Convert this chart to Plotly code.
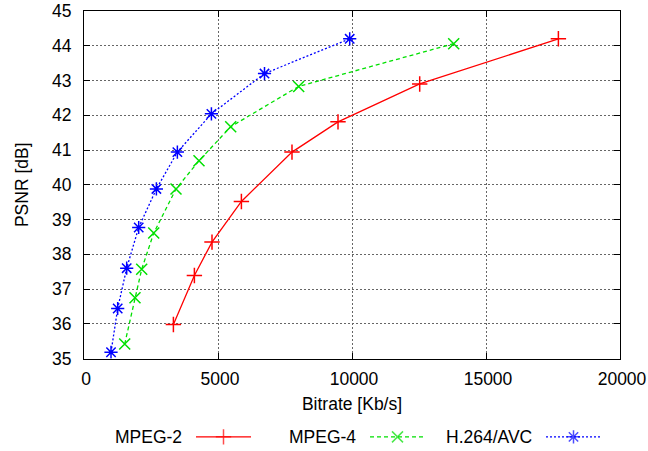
import plotly.graph_objects as go

# Rate-distortion measurements: bitrate in Kb/s, PSNR in dB
mpeg2_rate = [3336, 4119, 4776, 5873, 7761, 9478, 12526, 17701]
mpeg2_psnr = [35.98, 37.39, 38.35, 39.52, 40.94, 41.81, 42.90, 44.20]

mpeg4_rate = [1519, 1903, 2153, 2601, 3433, 4291, 5474, 8011, 13795]
mpeg4_psnr = [35.42, 36.75, 37.57, 38.61, 39.88, 40.69, 41.67, 42.83, 44.06]

h264_rate = [1008, 1257, 1593, 2041, 2701, 3484, 4754, 6735, 9914]
h264_psnr = [35.18, 36.44, 37.60, 38.77, 39.88, 40.94, 42.04, 43.20, 44.20]

series_names = ["MPEG-2", "MPEG-4", "H.264/AVC"]
x_ticks = [0, 5000, 10000, 15000, 20000]
x_tick_text = ["0", "5000", "10000", "15000", "20000"]
y_ticks = [35, 36, 37, 38, 39, 40, 41, 42, 43, 44, 45]

FONT = "Liberation Sans, Arial, sans-serif"
FS = 17.5
styles = [
    dict(color="#ff0000", dash="solid", symbol="cross-thin-open"),
    dict(color="#00e000", dash="4px,3px", symbol="x-thin-open"),
    dict(color="#0000ff", dash="2px,2px", symbol="asterisk-open"),
]
data = [(mpeg2_rate, mpeg2_psnr), (mpeg4_rate, mpeg4_psnr), (h264_rate, h264_psnr)]

fig = go.Figure()
for (xs, ys), st, name in zip(data, styles, series_names):
    fig.add_trace(go.Scatter(
        x=xs, y=ys, mode="lines+markers", name=name, showlegend=False,
        line=dict(color=st["color"], dash=st["dash"], width=1.3),
        marker=dict(symbol=st["symbol"], size=11, color=st["color"],
                    line=dict(color=st["color"], width=1.5)),
    ))

# Key row below the axes: label followed by a line sample with its marker
key_text_right = [184, 358, 534]
key_line = [(196, 251), (370, 425), (546, 601)]
for (x0, x1), xr, st, name in zip(key_line, key_text_right, styles, series_names):
    fig.add_trace(go.Scatter(
        x=[x0, (x0 + x1) / 2, x1], y=[0, 0, 0], xaxis="x2", yaxis="y2",
        mode="lines+markers", showlegend=False, hoverinfo="skip",
        line=dict(color=st["color"], dash=st["dash"], width=1.3),
        marker=dict(symbol=st["symbol"], size=[0, 11, 0], color=st["color"],
                    line=dict(color=st["color"], width=1.5)),
    ))
    fig.add_annotation(x=xr, y=0, xref="x2", yref="y2", text=name,
                       showarrow=False, xanchor="right", yanchor="middle",
                       font=dict(family=FONT, size=FS, color="#000000"))

axis_common = dict(
    showline=True, linecolor="#000000", linewidth=1, mirror="ticks",
    ticks="inside", ticklen=6, tickcolor="#000000",
    showgrid=True, gridcolor="#666666", griddash="2px,2px", gridwidth=1,
    zeroline=False, automargin=False,
    tickfont=dict(family=FONT, size=FS, color="#000000"),
)

fig.update_layout(
    width=648, height=451,
    margin=dict(l=84, r=28, t=11, b=5, autoexpand=False),
    paper_bgcolor="#ffffff", plot_bgcolor="#ffffff",
    xaxis=dict(range=[0, 20000], tickvals=x_ticks, ticktext=x_tick_text,
               anchor="y", ticklabelstandoff=4, ticklabelshift=2,
               ticklabeloverflow="allow",
               title=dict(text="Bitrate [Kb/s]", standoff=10,
                          font=dict(family=FONT, size=FS, color="#000000")),
               **axis_common),
    yaxis=dict(range=[35, 45], tickvals=y_ticks, domain=[0.2011, 1],
               ticklabelstandoff=8, ticklabeloverflow="allow",
               title=dict(text="PSNR [dB]", standoff=18,
                          font=dict(family=FONT, size=FS, color="#000000")),
               **axis_common),
    xaxis2=dict(range=[84, 620], domain=[0, 1], anchor="y2", visible=False,
                automargin=False),
    yaxis2=dict(range=[-1, 1], domain=[0.0, 0.042], anchor="x2", visible=False,
                automargin=False),
)

fig.write_html("out.html")
